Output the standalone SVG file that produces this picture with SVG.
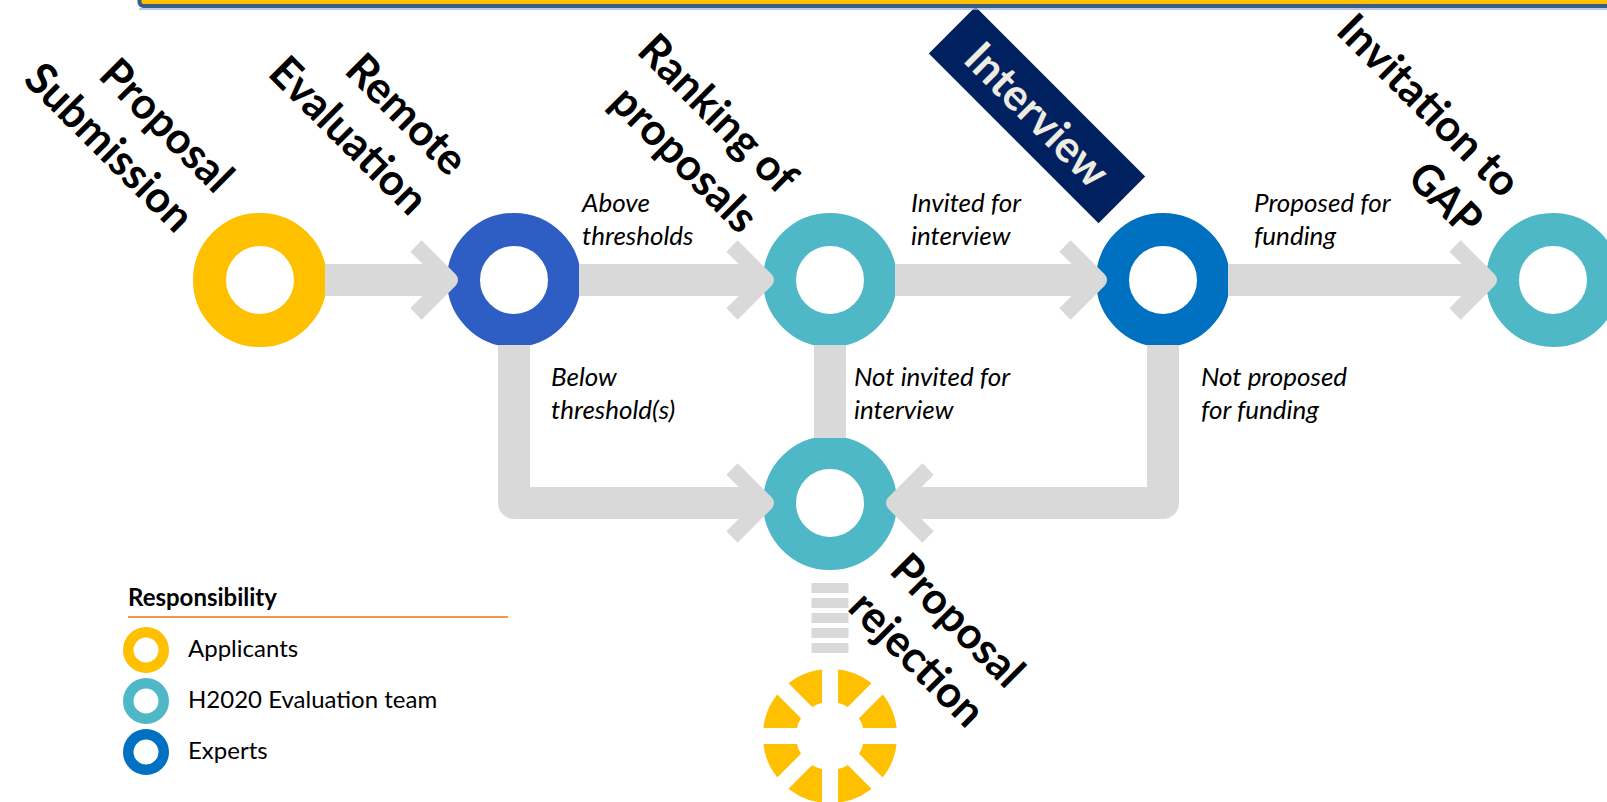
<svg xmlns="http://www.w3.org/2000/svg" width="1607" height="802" viewBox="0 0 1607 802">
<style>
.ring{fill:none;stroke-width:33}
.yel{stroke:#FFC000}
.teal{stroke:#4EB8C6}
.blu{stroke:#2E5EC3}
.exp{stroke:#0070C0}
.shaft{fill:none;stroke:#D9D9D9;stroke-width:32;stroke-linejoin:round}
.chev{fill:none;stroke:#D9D9D9;stroke-width:16;stroke-linejoin:round}
.big{font-family:Lato,"Open Sans",sans-serif;font-weight:bold;font-size:44px;fill:#000}
.lbl{font-family:Lato,"Open Sans",sans-serif;font-style:italic;font-size:26px;fill:#000}
.leg{font-family:Lato,"Open Sans",sans-serif;font-size:24px;fill:#000}
.lring{fill:none;stroke-width:10.5}
</style>

<g id="node-submission"><circle class="ring yel" cx="260" cy="280" r="50.5"/></g>
<g id="node-remote"><circle class="ring blu" cx="514" cy="280" r="50.5"/></g>
<g id="node-ranking"><circle class="ring teal" cx="830" cy="280" r="50.5"/></g>
<g id="node-interview"><circle class="ring exp" cx="1163" cy="280" r="50.5"/></g>
<g id="node-gap"><circle class="ring teal" cx="1553" cy="280" r="50.5"/></g>
<g id="node-rejection"><circle class="ring teal" cx="830" cy="503" r="50.5"/></g>
<g id="node-final">
<circle class="ring yel" cx="830" cy="736" r="50.5"/>
<g stroke="#FFFFFF" stroke-width="16">
<line x1="830" y1="656" x2="830" y2="816"/>
<line x1="750" y1="736" x2="910" y2="736"/>
<line x1="773.4" y1="679.4" x2="886.6" y2="792.6"/>
<line x1="886.6" y1="679.4" x2="773.4" y2="792.6"/>
</g>
</g>

<g id="connectors">
<path class="shaft" d="M325 280H440"/>
<path class="chev" d="M416 246L450 280L416 314"/>
<path class="shaft" d="M579 280H756"/>
<path class="chev" d="M732 246L766 280L732 314"/>
<path class="shaft" d="M895 280H1089"/>
<path class="chev" d="M1065 246L1099 280L1065 314"/>
<path class="shaft" d="M1228 280H1479"/>
<path class="chev" d="M1455 246L1489 280L1455 314"/>
<path class="shaft" d="M514 345V503H756"/>
<path class="chev" d="M732 469L766 503L732 537"/>
<path class="shaft" d="M830 345V438" style="stroke-linejoin:miter"/>
<path class="shaft" d="M1163 345V503H904"/>
<path class="chev" d="M928 469L894 503L928 537"/>
<path d="M830 583V653" fill="none" stroke="#D9D9D9" stroke-width="37" stroke-dasharray="10 5"/>
</g>

<g id="label-submission" transform="translate(215,195) rotate(45)">
<text class="big" text-anchor="end" x="0" y="0" textLength="167" lengthAdjust="spacingAndGlyphs">Proposal</text>
<text class="big" text-anchor="end" x="0" y="56" textLength="217" lengthAdjust="spacingAndGlyphs">Submission</text>
</g>
<g id="label-remote" transform="translate(449,178) rotate(45)">
<text class="big" text-anchor="end" x="0" y="0" textLength="150" lengthAdjust="spacingAndGlyphs">Remote</text>
<text class="big" text-anchor="end" x="0" y="56" textLength="202" lengthAdjust="spacingAndGlyphs">Evaluation</text>
</g>
<g id="label-ranking" transform="translate(779,196) rotate(45)">
<text class="big" text-anchor="end" x="0" y="0" textLength="203" lengthAdjust="spacingAndGlyphs">Ranking of</text>
<text class="big" text-anchor="end" x="0" y="56" textLength="186" lengthAdjust="spacingAndGlyphs">proposals</text>
</g>
<g id="label-interview" transform="translate(1037,115) rotate(45)">
<rect x="-120" y="-33" width="240" height="66" fill="#002060"/>
<text class="big" text-anchor="middle" x="0" y="15" style="fill:#EEECE1" textLength="183" lengthAdjust="spacingAndGlyphs">Interview</text>
</g>
<g id="label-gap" transform="translate(1502,200) rotate(45)">
<text class="big" text-anchor="end" x="0" y="0" textLength="237" lengthAdjust="spacingAndGlyphs">Invitation to</text>
<text class="big" text-anchor="end" x="0" y="54" textLength="82" lengthAdjust="spacingAndGlyphs">GAP</text>
</g>
<g id="label-rejection" transform="translate(1006,690) rotate(45)">
<text class="big" text-anchor="end" x="0" y="0" textLength="167" lengthAdjust="spacingAndGlyphs">Proposal</text>
<text class="big" text-anchor="end" x="0" y="56" textLength="170" lengthAdjust="spacingAndGlyphs">rejection</text>
</g>

<g id="edge-labels">
<text class="lbl" x="582" y="212">Above</text>
<text class="lbl" x="582" y="245">thresholds</text>
<text class="lbl" x="911" y="212">Invited for</text>
<text class="lbl" x="911" y="245">interview</text>
<text class="lbl" x="1254" y="212">Proposed for</text>
<text class="lbl" x="1254" y="245">funding</text>
<text class="lbl" x="551" y="386">Below</text>
<text class="lbl" x="551" y="419">threshold(s)</text>
<text class="lbl" x="854" y="386">Not invited for</text>
<text class="lbl" x="854" y="419">interview</text>
<text class="lbl" x="1201" y="386">Not proposed</text>
<text class="lbl" x="1201" y="419">for funding</text>
</g>

<g id="legend">
<text class="leg" x="128" y="606" font-weight="bold">Responsibility</text>
<line x1="128" y1="617" x2="508" y2="617" stroke="#F79646" stroke-width="2"/>
<circle class="lring yel" cx="146" cy="650" r="17.75"/>
<circle class="lring teal" cx="146" cy="701" r="17.75"/>
<circle class="lring exp" cx="146" cy="752" r="17.75"/>
<text class="leg" x="188" y="657">Applicants</text>
<text class="leg" x="188" y="708">H2020 Evaluation team</text>
<text class="leg" x="188" y="759">Experts</text>
</g>

<g id="title-bar">
<rect x="139.5" y="-20" width="1500" height="26" rx="4" fill="#FFC000" stroke="#385D8A" stroke-width="4"/>
<line x1="139" y1="9" x2="1607" y2="9" stroke="#A7BAD3" stroke-width="1.5"/>
</g>
</svg>
